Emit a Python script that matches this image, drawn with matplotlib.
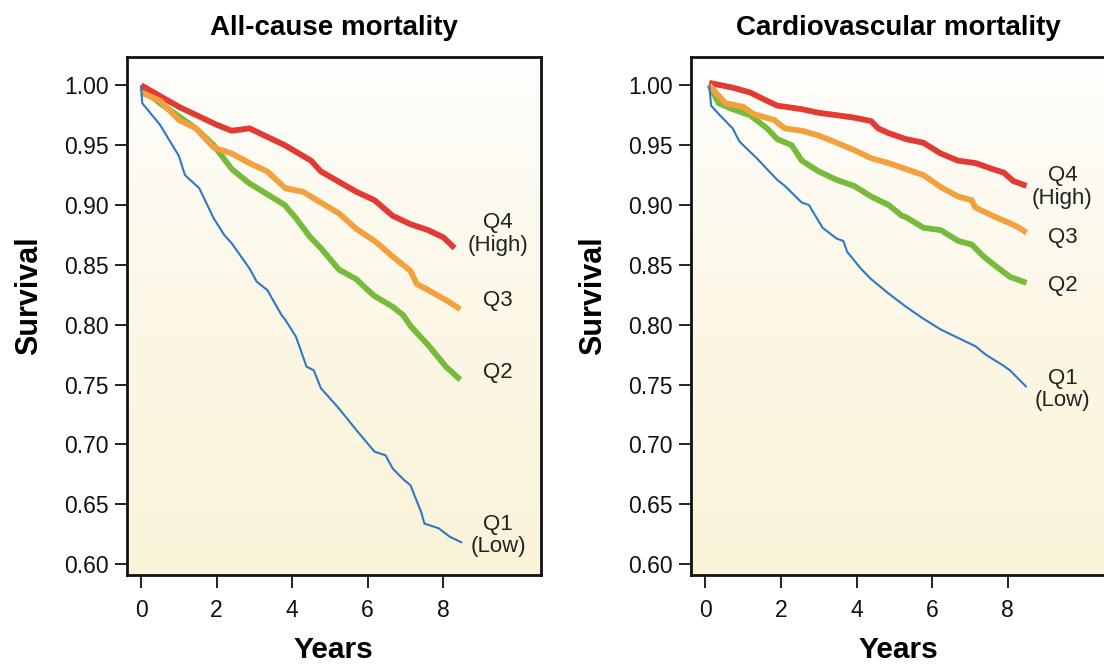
import matplotlib
matplotlib.use("Agg")
import matplotlib.pyplot as plt
import numpy as np
from matplotlib.colors import LinearSegmentedColormap

plt.rcParams["font.family"] = ["Liberation Sans", "DejaVu Sans"]

# All-cause mortality, survival by quartile
ac_years_q4 = [0.0, 1.0, 2.0, 2.4, 2.87, 3.8, 4.5, 4.76, 5.7, 6.18, 6.66, 7.13, 7.6, 8.0, 8.3]
ac_surv_q4 = [1.000, 0.982, 0.967, 0.962, 0.964, 0.950, 0.937, 0.928, 0.911, 0.904, 0.891, 0.884, 0.879, 0.873, 0.864]

ac_years_q3 = [0.0, 0.5, 1.0, 1.45, 1.92, 2.4, 2.87, 3.34, 3.82, 4.29, 4.76, 5.24, 5.7, 6.18,
               6.66, 7.13, 7.3, 7.6, 8.1, 8.45]
ac_surv_q3 = [0.994, 0.987, 0.971, 0.964, 0.948, 0.943, 0.935, 0.928, 0.914, 0.911, 0.902, 0.893,
              0.880, 0.870, 0.857, 0.845, 0.834, 0.829, 0.820, 0.813]

ac_years_q2 = [0.0, 0.5, 1.0, 1.45, 1.92, 2.4, 2.87, 3.34, 3.8, 4.1, 4.48, 4.76, 5.24, 5.7, 6.0,
               6.18, 6.66, 6.94, 7.13, 7.6, 8.07, 8.45]
ac_surv_q2 = [0.998, 0.985, 0.974, 0.964, 0.950, 0.930, 0.918, 0.909, 0.900, 0.889, 0.873, 0.864,
              0.846, 0.838, 0.829, 0.824, 0.815, 0.808, 0.799, 0.783, 0.765, 0.754]

ac_years_q1 = [0.0, 0.03, 0.5, 1.0, 1.16, 1.54, 1.92, 2.2, 2.4, 2.87, 3.06, 3.34, 3.72, 3.82, 4.1,
               4.38, 4.57, 4.76, 5.24, 5.7, 6.18, 6.47, 6.66, 6.94, 7.13, 7.41, 7.5, 7.88, 8.17, 8.5]
ac_surv_q1 = [1.000, 0.985, 0.967, 0.941, 0.925, 0.914, 0.889, 0.875, 0.868, 0.847, 0.836, 0.829,
              0.808, 0.804, 0.790, 0.765, 0.762, 0.747, 0.730, 0.712, 0.694, 0.691, 0.680, 0.671,
              0.666, 0.644, 0.634, 0.630, 0.623, 0.618]

# Cardiovascular mortality, survival by quartile
cv_years_q4 = [0.1, 0.72, 1.18, 1.63, 1.9, 2.55, 3.0, 3.47, 3.93, 4.39, 4.57, 4.85, 5.31, 5.77,
               6.23, 6.69, 7.15, 7.6, 7.9, 8.15, 8.5]
cv_surv_q4 = [1.002, 0.998, 0.994, 0.987, 0.983, 0.980, 0.977, 0.975, 0.973, 0.970, 0.964, 0.960,
              0.955, 0.952, 0.943, 0.937, 0.935, 0.930, 0.927, 0.920, 0.916]

cv_years_q3 = [0.1, 0.53, 1.0, 1.27, 1.82, 2.1, 2.55, 3.0, 3.47, 3.93, 4.39, 4.85, 5.31, 5.77,
               6.23, 6.69, 7.05, 7.14, 7.6, 7.97, 8.25, 8.5]
cv_surv_q3 = [1.000, 0.985, 0.982, 0.976, 0.971, 0.964, 0.962, 0.958, 0.952, 0.946, 0.939, 0.935,
              0.930, 0.925, 0.915, 0.907, 0.904, 0.898, 0.891, 0.886, 0.882, 0.877]

cv_years_q2 = [0.1, 0.35, 0.72, 1.18, 1.63, 1.9, 2.28, 2.55, 3.0, 3.47, 3.93, 4.39, 4.85, 5.2,
               5.3, 5.77, 6.23, 6.69, 7.05, 7.33, 7.6, 8.06, 8.5]
cv_surv_q2 = [1.000, 0.985, 0.980, 0.975, 0.964, 0.955, 0.950, 0.937, 0.928, 0.921, 0.916, 0.907,
              0.900, 0.891, 0.890, 0.881, 0.879, 0.870, 0.867, 0.858, 0.851, 0.840, 0.835]

cv_years_q1 = [0.1, 0.15, 0.35, 0.72, 0.9, 1.36, 1.63, 1.9, 2.1, 2.55, 2.74, 3.1, 3.47, 3.65, 3.75,
               4.11, 4.39, 4.85, 5.31, 5.77, 6.23, 6.69, 7.15, 7.42, 7.88, 8.06, 8.5]
cv_surv_q1 = [1.000, 0.983, 0.976, 0.964, 0.953, 0.939, 0.930, 0.921, 0.916, 0.902, 0.900, 0.881,
              0.872, 0.870, 0.861, 0.847, 0.838, 0.826, 0.815, 0.805, 0.796, 0.789, 0.782, 0.775,
              0.766, 0.762, 0.748]

titles = ["All-cause mortality", "Cardiovascular mortality"]
quartile_names = ["Q4\n(High)", "Q3", "Q2", "Q1\n(Low)"]
# label anchor heights for each panel (Q4, Q3, Q2, Q1)
ac_label_y = [0.876, 0.820, 0.760, 0.624]
cv_label_y = [0.915, 0.873, 0.833, 0.746]

x_ticks = [0, 2, 4, 6, 8]
y_ticks = [0.60, 0.65, 0.70, 0.75, 0.80, 0.85, 0.90, 0.95, 1.00]

COLORS = {"Q4": "#e23b33", "Q3": "#f3a03f", "Q2": "#76bb3b", "Q1": "#2e78c4"}
XLIM = (-0.38, 10.58)
YLIM = (0.591, 1.0235)

bg_cmap = LinearSegmentedColormap.from_list("bg", ["#fefefc", "#fcf7e6", "#faf3d8"])


def draw_panel(ax, title, curves, label_y):
    # soft vertical wash: near white at the top, pale yellow at the bottom
    grad = np.linspace(0, 1, 256).reshape(-1, 1)
    ax.imshow(grad, cmap=bg_cmap, aspect="auto", origin="upper",
              extent=(XLIM[0], XLIM[1], YLIM[0], YLIM[1]),
              zorder=0, interpolation="bicubic")

    for key in ["Q2", "Q4", "Q3", "Q1"]:
        xs, ys = curves[key]
        lw = 1.5 if key == "Q1" else 4.2
        ax.plot(xs, ys, color=COLORS[key], lw=lw, solid_joinstyle="round",
                solid_capstyle="butt", zorder=2)

    for name, yv in zip(quartile_names, label_y):
        ax.text(9.45, yv, name, ha="center", va="center", fontsize=16,
                color="#222222", linespacing=1.1, zorder=3)

    ax.set_xlim(*XLIM)
    ax.set_ylim(*YLIM)
    ax.set_xticks(x_ticks)
    ax.set_yticks(y_ticks)
    ax.set_yticklabels([f"{v:.2f}" for v in y_ticks])
    ax.tick_params(axis="both", labelsize=16.5, width=1.4, length=9, color="#222222",
                   labelcolor="#111111")
    ax.tick_params(axis="x", pad=8)
    ax.tick_params(axis="y", pad=4)
    for sp in ax.spines.values():
        sp.set_linewidth(2.0)
        sp.set_color("#111111")

    ax.set_title(title, fontsize=20, fontweight="bold", pad=16)
    ax.set_xlabel("Years", fontsize=21.5, fontweight="bold", labelpad=10)
    ax.set_ylabel("Survival", fontsize=22, fontweight="bold")
    ax.yaxis.set_label_coords(-0.20, 0.54)


fig = plt.figure(figsize=(11.04, 6.64), dpi=100)
ax_ac = fig.add_axes([0.1148, 0.134, 0.375, 0.780])
ax_cv = fig.add_axes([0.626, 0.134, 0.375, 0.780])

draw_panel(ax_ac, titles[0], {
    "Q4": (ac_years_q4, ac_surv_q4),
    "Q3": (ac_years_q3, ac_surv_q3),
    "Q2": (ac_years_q2, ac_surv_q2),
    "Q1": (ac_years_q1, ac_surv_q1),
}, ac_label_y)

draw_panel(ax_cv, titles[1], {
    "Q4": (cv_years_q4, cv_surv_q4),
    "Q3": (cv_years_q3, cv_surv_q3),
    "Q2": (cv_years_q2, cv_surv_q2),
    "Q1": (cv_years_q1, cv_surv_q1),
}, cv_label_y)

fig.savefig("out.png", dpi=100)
